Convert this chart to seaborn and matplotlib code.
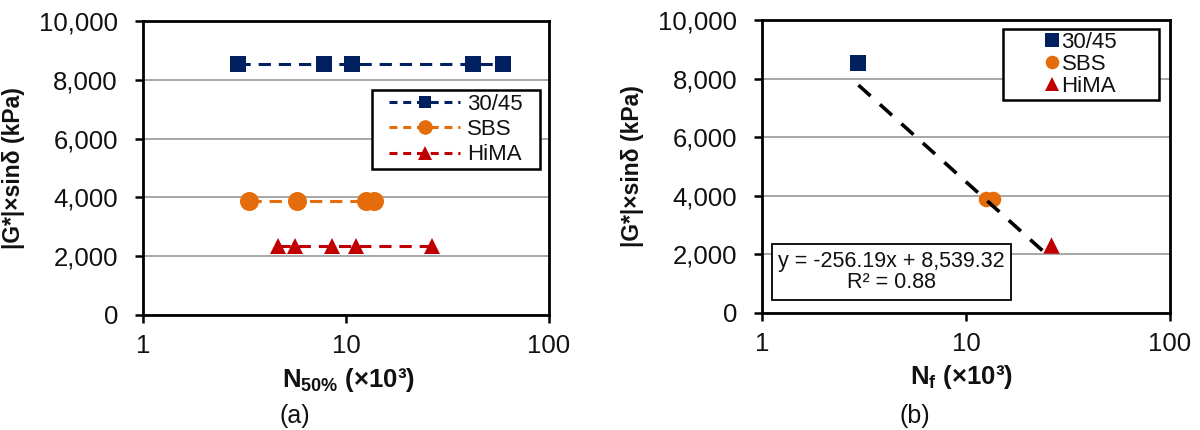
import matplotlib
matplotlib.use("Agg")
import matplotlib.pyplot as plt
import seaborn as sns
import numpy as np
import pandas as pd
from matplotlib.ticker import FixedLocator, FixedFormatter, FuncFormatter, NullLocator
from matplotlib.lines import Line2D
from matplotlib.patches import Rectangle

# ---------------- data ----------------
binders = ["30/45", "SBS", "HiMA"]
# panel (a): N50% (x10^3) and |G*|sin(delta) (kPa)
n50_3045 = [2.95, 7.8, 10.7, 42.4, 59.6]
g_3045_a = [8540, 8540, 8540, 8540, 8540]
n50_sbs = [3.33, 5.71, 12.5, 13.7]
g_sbs_a = [3885, 3885, 3885, 3885]
n50_hima = [4.64, 5.61, 8.51, 11.2, 26.4]
g_hima_a = [2330, 2330, 2330, 2330, 2330]
# panel (b): Nf (x10^3)
nf_3045 = [2.97]
g_3045_b = [8540]
nf_sbs = [12.6, 13.6]
g_sbs_b = [3885, 3885]
nf_hima = [26.0]
g_hima_b = [2330]
# linear trendline
trend_slope = -256.19
trend_intercept = 8539.32
trend_r2 = 0.88

x_ticks = [1, 10, 100]
x_tick_labels = ["1", "10", "100"]
y_ticks = [0, 2000, 4000, 6000, 8000, 10000]

colors = {"30/45": "#002060", "SBS": "#E46C0A", "HiMA": "#C00000"}
markers = {"30/45": "s", "SBS": "o", "HiMA": "^"}
ms_a = {"30/45": 12, "SBS": 13.7, "HiMA": 12}
ms_b = {"30/45": 12.2, "SBS": 11.2, "HiMA": 11.8}
ms_leg_a = {"30/45": 8.5, "SBS": 10.5, "HiMA": 10}
ms_leg_b = {"30/45": 9.5, "SBS": 9.8, "HiMA": 10}

sns.set_theme(style="white")
plt.rcParams["font.family"] = ["Liberation Sans", "DejaVu Sans"]
plt.rcParams["mathtext.fontset"] = "custom"
plt.rcParams["mathtext.rm"] = "Liberation Sans"
plt.rcParams["mathtext.bf"] = "Liberation Sans:bold"

TICK_FS = 18.5
LAB_FS = 16.5
XLAB_FS = 18.5
LEG_FS = 16
TXT_COLOR = "#111111"

fig = plt.figure(figsize=(12, 4.3), dpi=100)
axA = fig.add_axes([143 / 1200, 1 - 315 / 430, 406 / 1200, 294 / 430])
axB = fig.add_axes([762 / 1200, 1 - 313 / 430, 408 / 1200, 293 / 430])


def style_axis(ax):
    ax.set_xscale("log")
    ax.set_xlim(1, 100)
    ax.set_ylim(0, 10000)
    ax.xaxis.set_major_locator(FixedLocator(x_ticks))
    ax.xaxis.set_major_formatter(FixedFormatter(x_tick_labels))
    ax.xaxis.set_minor_locator(NullLocator())
    ax.yaxis.set_major_locator(FixedLocator(y_ticks))
    ax.yaxis.set_major_formatter(FuncFormatter(lambda v, p: f"{int(v):,}"))
    ax.grid(False)
    ax.yaxis.grid(True, color="#A0A0A0", linewidth=1.3)
    ax.set_axisbelow(True)
    for s in ax.spines.values():
        s.set_visible(True)
        s.set_color("black")
        s.set_linewidth(2.0)
    ax.tick_params(axis="both", which="major", direction="out", length=6,
                   width=1.8, color="black", labelsize=TICK_FS, pad=8,
                   bottom=True, left=True, labelcolor=TXT_COLOR)
    ax.tick_params(axis="y", pad=12)
    ax.set_ylabel("|G*|×sinδ (kPa)", fontsize=LAB_FS, fontweight="bold",
                  color=TXT_COLOR)
    ax.yaxis.set_label_coords(-0.29, 0.5)


def boxed_legend(ax, handles, rect, **kw):
    x0, y0, x1, y1 = rect
    ax.add_patch(Rectangle((x0, y0), x1 - x0, y1 - y0, transform=ax.transAxes,
                           facecolor="white", edgecolor="black", linewidth=1.8,
                           zorder=6, clip_on=False))
    leg = ax.legend(handles=handles, loc="center",
                    bbox_to_anchor=((x0 + x1) / 2, (y0 + y1) / 2),
                    frameon=False, fontsize=LEG_FS, borderpad=0,
                    borderaxespad=0, **kw)
    leg.set_zorder(7)
    for t in leg.get_texts():
        t.set_color(TXT_COLOR)
    return leg


# ---------------- panel (a) ----------------
series_a = [
    ("30/45", n50_3045, g_3045_a),
    ("SBS", n50_sbs, g_sbs_a),
    ("HiMA", n50_hima, g_hima_a),
]
handles_a = []
for name, xs, ys in series_a:
    df = pd.DataFrame({"N": xs, "G": ys})
    sns.lineplot(data=df, x="N", y="G", ax=axA, color=colors[name],
                 marker=markers[name], markersize=ms_a[name],
                 markeredgewidth=0, linewidth=2.2, sort=False,
                 estimator=None, zorder=3)
    ln = axA.lines[-1]
    ln.set_dashes([4, 2.6])
    handles_a.append(Line2D([], [], color=colors[name], marker=markers[name],
                            markersize=ms_leg_a[name], markeredgewidth=0,
                            linewidth=2.2, dashes=[2.6, 1.9], label=name))
style_axis(axA)
axA.set_xlabel(r"$\mathbf{N}_{\mathbf{50\%}}$ (×10³)", fontsize=XLAB_FS,
               fontweight="bold", color=TXT_COLOR)
axA.xaxis.set_label_coords(0.507, -0.172)
boxed_legend(axA, handles_a, (0.564, 0.497, 0.978, 0.765),
             handlelength=3.2, handletextpad=0.3, labelspacing=0.2)

# ---------------- panel (b) ----------------
series_b = [
    ("30/45", nf_3045, g_3045_b),
    ("SBS", nf_sbs, g_sbs_b),
    ("HiMA", nf_hima, g_hima_b),
]
handles_b = []
for name, xs, ys in series_b:
    df = pd.DataFrame({"N": xs, "G": ys})
    sns.scatterplot(data=df, x="N", y="G", ax=axB, color=colors[name],
                    marker=markers[name], s=ms_b[name] ** 2,
                    linewidth=0, zorder=3)
    handles_b.append(Line2D([], [], color=colors[name], marker=markers[name],
                            markersize=ms_leg_b[name], markeredgewidth=0,
                            linestyle="none", label=name))

all_nf = nf_3045 + nf_sbs + nf_hima
tx = np.array([min(all_nf), max(all_nf)])
ty = trend_slope * tx + trend_intercept
axB.plot(tx, ty, color="black", linewidth=2.6, dashes=[4.5, 3.5], zorder=4)

style_axis(axB)
axB.set_xlabel(r"$\mathbf{N}_{\mathbf{f}}$ (×10³)", fontsize=XLAB_FS,
               fontweight="bold", color=TXT_COLOR)
axB.xaxis.set_label_coords(0.49, -0.172)
boxed_legend(axB, handles_b, (0.591, 0.727, 0.973, 0.969),
             handlelength=0.6, handletextpad=0.15, labelspacing=0.05)

eq = f"y = {trend_slope:.2f}x + {trend_intercept:,.2f}\nR² = {trend_r2:.2f}"
axB.text(0.317, 0.14, eq, transform=axB.transAxes, ha="center", va="center",
         fontsize=15.5, multialignment="center", zorder=5, color=TXT_COLOR,
         linespacing=1.05,
         bbox=dict(boxstyle="square,pad=0.3", facecolor="white",
                   edgecolor="black", linewidth=1.3))

fig.text(295 / 1200, 1 - 416 / 430, "(a)", fontsize=18, ha="center",
         va="center", color=TXT_COLOR)
fig.text(915 / 1200, 1 - 416 / 430, "(b)", fontsize=18, ha="center",
         va="center", color=TXT_COLOR)

fig.savefig("out.png", dpi=100)
